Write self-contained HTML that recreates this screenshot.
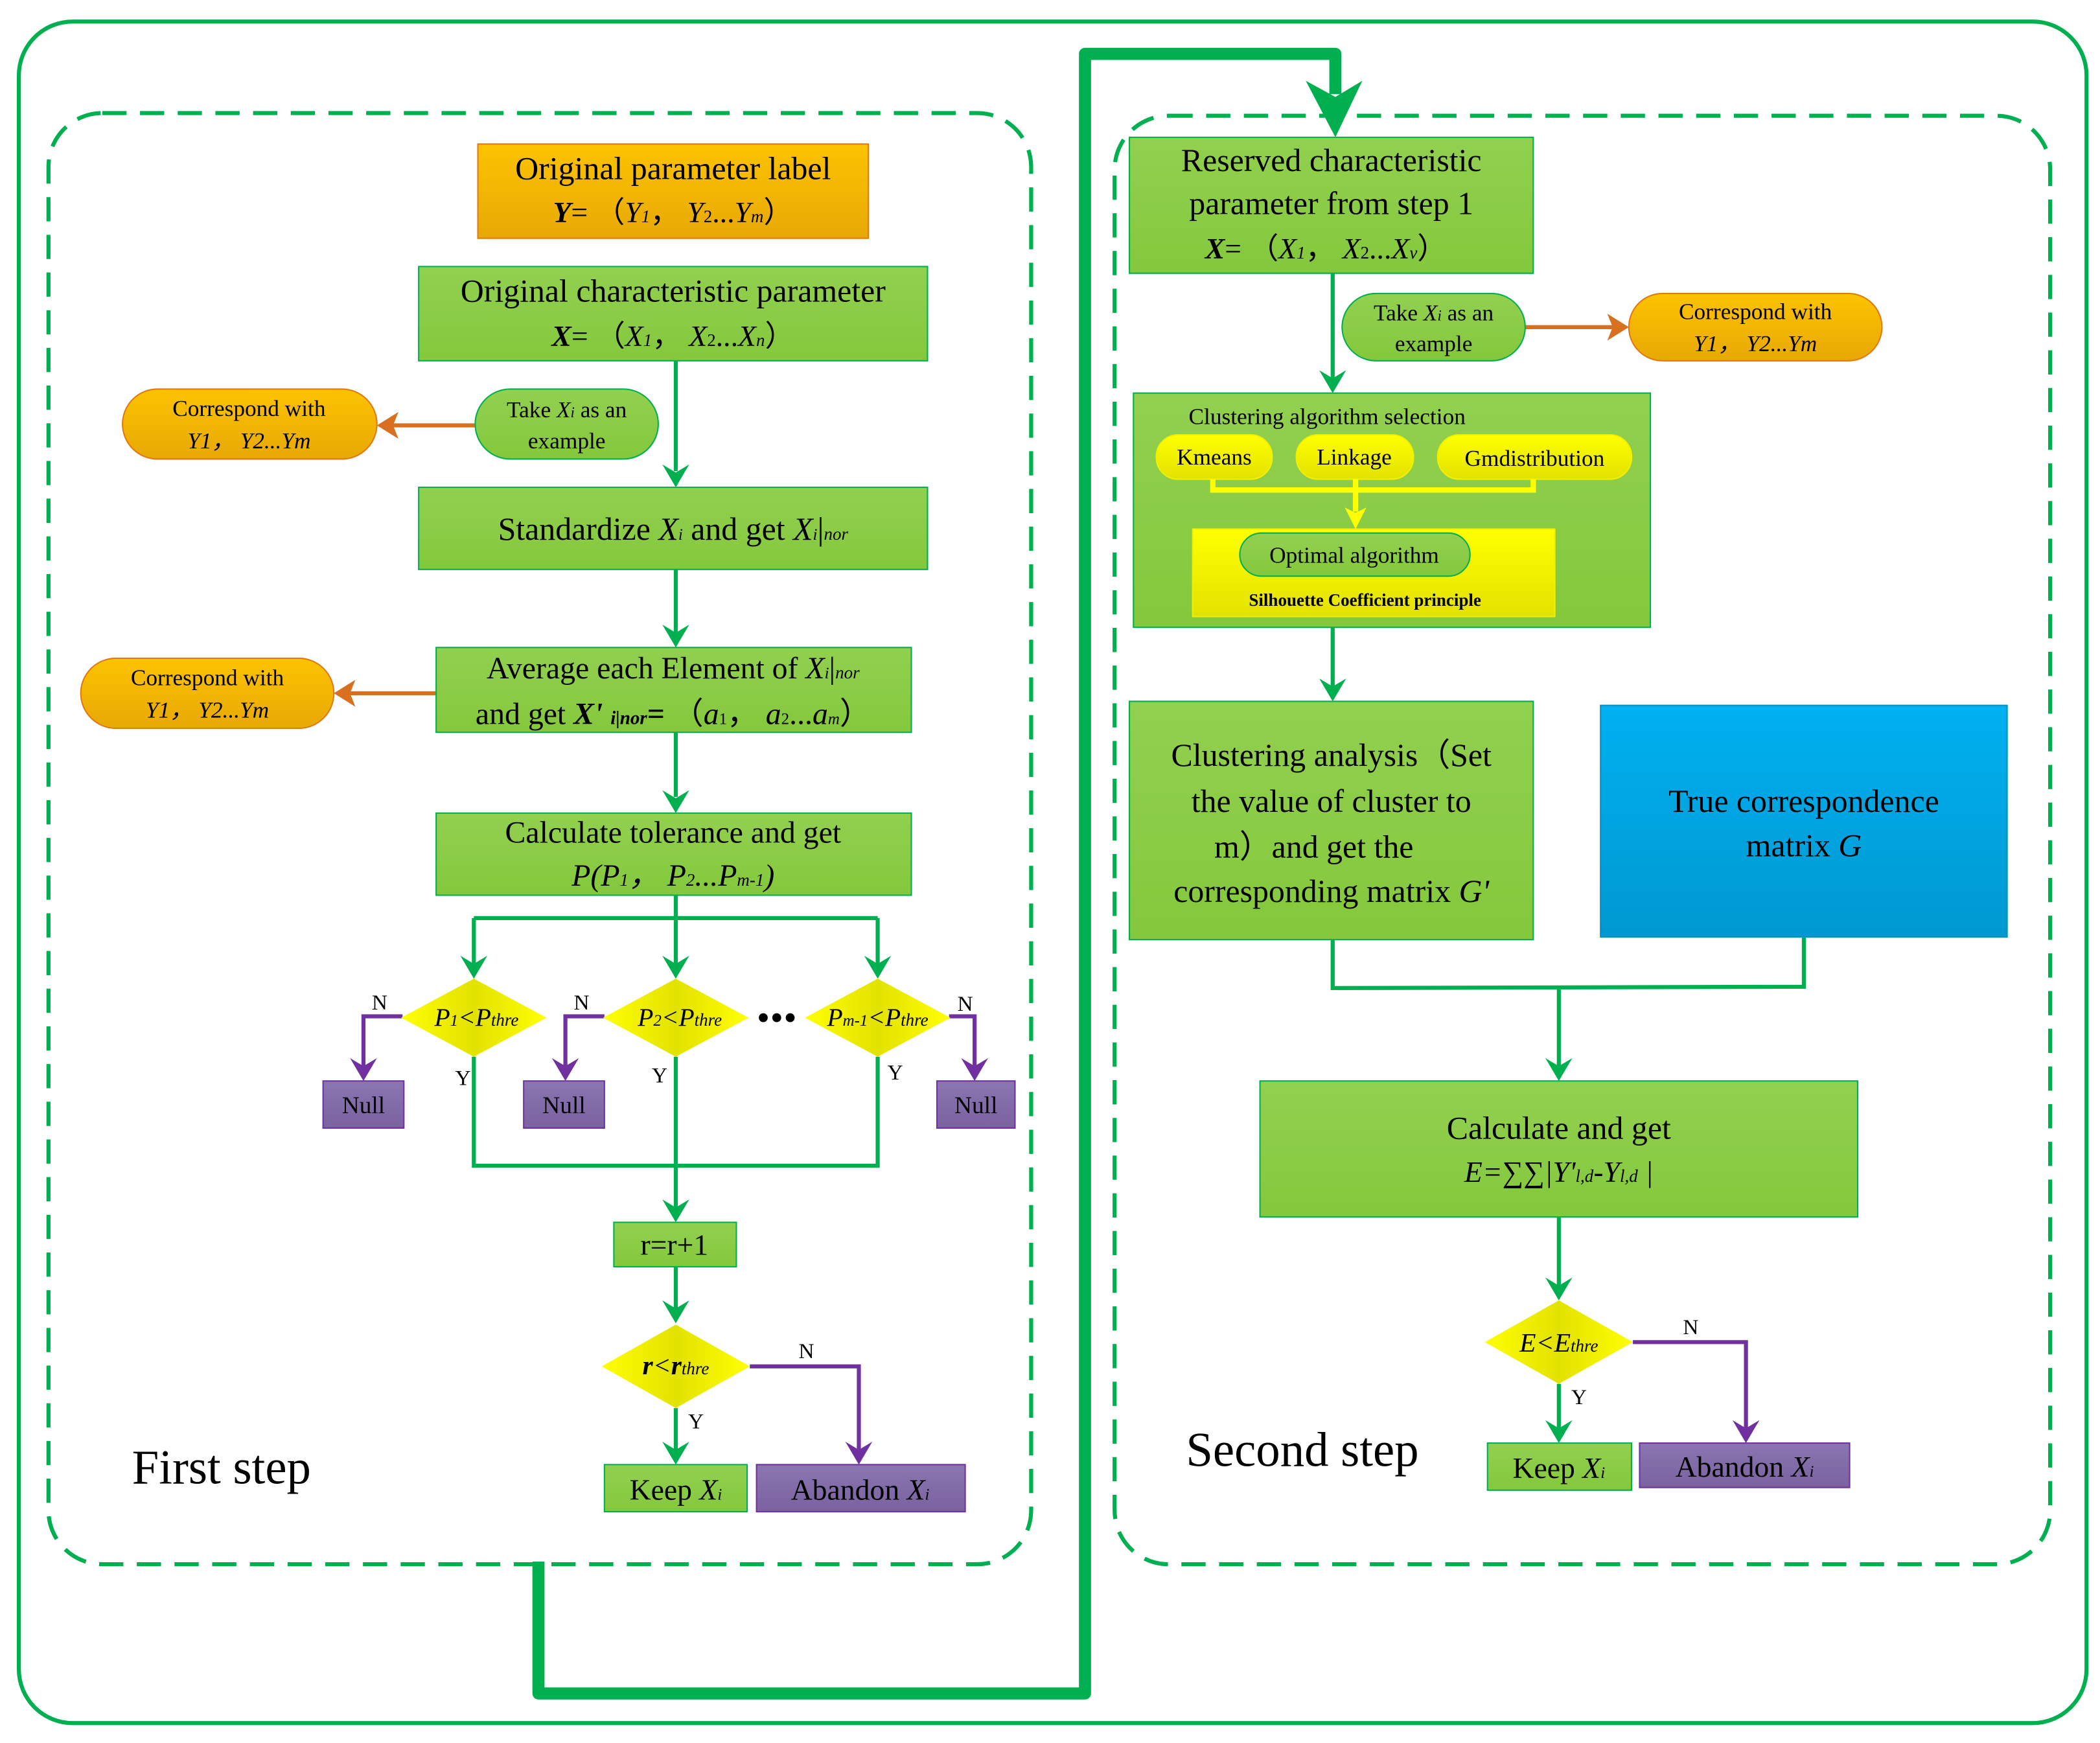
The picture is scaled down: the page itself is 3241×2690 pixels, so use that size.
<!DOCTYPE html>
<html><head><meta charset="utf-8">
<style>
html,body{margin:0;padding:0;background:#fff;}
svg{display:block;}
text{font-family:"Liberation Serif",serif;fill:#000;}
</style></head>
<body>
<svg width="3241" height="2690" viewBox="0 0 1560 1294.8" xmlns="http://www.w3.org/2000/svg">
<defs>
<linearGradient id="gG" x1="0" y1="0" x2="0" y2="1"><stop offset="0" stop-color="#92d050"/><stop offset="1" stop-color="#84c83c"/></linearGradient>
<linearGradient id="gO" x1="0" y1="0" x2="0" y2="1"><stop offset="0" stop-color="#fcc300"/><stop offset="1" stop-color="#e8a806"/></linearGradient>
<linearGradient id="gB" x1="0" y1="0" x2="0" y2="1"><stop offset="0" stop-color="#00b0f0"/><stop offset="1" stop-color="#0098d0"/></linearGradient>
<linearGradient id="gP" x1="0" y1="0" x2="0" y2="1"><stop offset="0" stop-color="#8a76b0"/><stop offset="1" stop-color="#7a62a0"/></linearGradient>
<linearGradient id="gY" x1="0" y1="0" x2="0" y2="1"><stop offset="0" stop-color="#ffff00"/><stop offset="1" stop-color="#e2e200"/></linearGradient>
<linearGradient id="gD" x1="0" y1="0" x2="1" y2="0"><stop offset="0" stop-color="#ffff00"/><stop offset="0.5" stop-color="#e2e200"/><stop offset="1" stop-color="#ffff00"/></linearGradient>
<marker id="aG" markerWidth="10" markerHeight="12" refX="5" refY="10" orient="auto-start-reverse" markerUnits="userSpaceOnUse" viewBox="0 0 10 12"><path d="M0,0 L5,3 L10,0 L5,12 Z" fill="#00b050"/></marker>
</defs>

<!-- outer frame -->
<rect x="14" y="16" width="1536" height="1264" rx="40" fill="none" stroke="#00b050" stroke-width="3"/>
<!-- dashed groups -->
<rect x="36" y="84" width="730" height="1078" rx="40" fill="none" stroke="#00b050" stroke-width="3" stroke-dasharray="18,10"/>
<rect x="828" y="86" width="695" height="1076" rx="40" fill="none" stroke="#00b050" stroke-width="3" stroke-dasharray="18,10"/>

<!-- thick connector -->
<path d="M400,1160 V1258 H806 V40 H992 V70" fill="none" stroke="#00b050" stroke-width="9" stroke-linejoin="round"/>
<path d="M970,60 L992,72 L1012,60 L992,102 Z" fill="#00b050"/>

<g stroke="#00b050" stroke-width="3" fill="none">
<!-- left flow -->
<line x1="502" y1="268" x2="502" y2="350"/>
<line x1="502" y1="423" x2="502" y2="470"/>
<line x1="502" y1="544" x2="502" y2="592"/>
<polyline points="502,665 502,682"/>
<line x1="352" y1="682" x2="652" y2="682"/>
<line x1="352" y1="682" x2="352" y2="716"/>
<line x1="502" y1="682" x2="502" y2="716"/>
<line x1="652" y1="682" x2="652" y2="716"/>
<polyline points="352,785 352,866 652,866 652,785"/>
<line x1="502" y1="785" x2="502" y2="897"/>
<line x1="502" y1="941" x2="502" y2="972"/>
<line x1="502" y1="1046" x2="502" y2="1077"/>
<!-- right flow -->
<line x1="990" y1="203" x2="990" y2="281"/>
<line x1="990" y1="466" x2="990" y2="510"/>
<polyline points="990,698 990,734 1340,733 1340,696"/>
<line x1="1158" y1="734" x2="1158" y2="792"/>
<line x1="1158" y1="904" x2="1158" y2="955"/>
<line x1="1158" y1="1028" x2="1158" y2="1061"/>
</g>
<g fill="#00b050">
<path d="M492,345 L502,351 L512,345 L502,362 Z"/>
<path d="M492,464 L502,470 L512,464 L502,481 Z"/>
<path d="M492,587 L502,593 L512,587 L502,604 Z"/>
<path d="M342,710 L352,716 L362,710 L352,727 Z"/>
<path d="M492,710 L502,716 L512,710 L502,727 Z"/>
<path d="M642,710 L652,716 L662,710 L652,727 Z"/>
<path d="M492,891 L502,897 L512,891 L502,908 Z"/>
<path d="M492,966 L502,972 L512,966 L502,983 Z"/>
<path d="M492,1071 L502,1077 L512,1071 L502,1088 Z"/>
<path d="M980,275 L990,281 L1000,275 L990,292 Z"/>
<path d="M980,504 L990,510 L1000,504 L990,521 Z"/>
<path d="M1148,786 L1158,792 L1168,786 L1158,803 Z"/>
<path d="M1148,949 L1158,955 L1168,949 L1158,966 Z"/>
<path d="M1148,1055 L1158,1061 L1168,1055 L1158,1072 Z"/>
</g>

<!-- orange arrows -->
<g stroke="#d87020" stroke-width="3" fill="#d87020">
<line x1="353" y1="316" x2="292" y2="316"/>
<path d="M280,316 L296,306 L292,316 L296,326 Z" stroke="none"/>
<line x1="324" y1="515" x2="260" y2="515"/>
<path d="M248,515 L264,505 L260,515 L264,525 Z" stroke="none"/>
<line x1="1133" y1="243" x2="1198" y2="243"/>
<path d="M1210,243 L1194,233 L1198,243 L1194,253 Z" stroke="none"/>
</g>

<!-- purple arrows -->
<g stroke="#7030a0" stroke-width="3" fill="none">
<polyline points="299,755 270,755 270,792"/>
<polyline points="449,755 420,755 420,792"/>
<polyline points="705,755 724,755 724,792"/>
<polyline points="557,1015 638,1015 638,1077"/>
<polyline points="1213,997 1297,997 1297,1061"/>
</g>
<g fill="#7030a0">
<path d="M260,786 L270,792 L280,786 L270,803 Z"/>
<path d="M410,786 L420,792 L430,786 L420,803 Z"/>
<path d="M714,786 L724,792 L734,786 L724,803 Z"/>
<path d="M628,1071 L638,1077 L648,1071 L638,1088 Z"/>
<path d="M1287,1055 L1297,1061 L1307,1055 L1297,1072 Z"/>
</g>

<!-- LEFT boxes -->
<rect x="355" y="107" width="290" height="70" fill="url(#gO)" stroke="#e07a10" stroke-width="1"/>
<text x="500" y="133" font-size="24" text-anchor="middle">Original parameter label</text>
<text x="500" y="165" font-size="22" text-anchor="middle"><tspan font-weight="bold" font-style="italic">Y</tspan>= （<tspan font-style="italic">Y</tspan><tspan font-size="13" font-style="italic">1</tspan>， <tspan font-style="italic">Y</tspan><tspan font-size="13">2</tspan>...<tspan font-style="italic">Y</tspan><tspan font-size="13" font-style="italic">m</tspan>）</text>

<rect x="311" y="198" width="378" height="70" fill="url(#gG)" stroke="#00b050" stroke-width="1"/>
<text x="500" y="224" font-size="24" text-anchor="middle">Original characteristic parameter</text>
<text x="500" y="257" font-size="22" text-anchor="middle"><tspan font-weight="bold" font-style="italic">X</tspan>= （<tspan font-style="italic">X</tspan><tspan font-size="13" font-style="italic">1</tspan>， <tspan font-style="italic">X</tspan><tspan font-size="13">2</tspan>...<tspan font-style="italic">X</tspan><tspan font-size="13" font-style="italic">n</tspan>）</text>

<rect x="353" y="289" width="136" height="52" rx="26" fill="url(#gG)" stroke="#00b050" stroke-width="1"/>
<text x="421" y="310" font-size="17" text-anchor="middle">Take <tspan font-style="italic">X</tspan><tspan font-size="11" font-style="italic">i</tspan> as an</text>
<text x="421" y="333" font-size="17" text-anchor="middle">example</text>

<rect x="91" y="289" width="189" height="52" rx="26" fill="url(#gO)" stroke="#e07a10" stroke-width="1"/>
<text x="185" y="309" font-size="17" text-anchor="middle">Correspond with</text>
<text x="185" y="333" font-size="17" text-anchor="middle" font-style="italic">Y1， Y2...Ym</text>

<rect x="311" y="362" width="378" height="61" fill="url(#gG)" stroke="#00b050" stroke-width="1"/>
<text x="500" y="401" font-size="24" text-anchor="middle">Standardize <tspan font-style="italic">X</tspan><tspan font-size="12" font-style="italic">i</tspan> and get  <tspan font-style="italic">X</tspan><tspan font-size="12" font-style="italic">i</tspan>|<tspan font-size="13" font-style="italic">nor</tspan></text>

<rect x="324" y="481" width="353" height="63" fill="url(#gG)" stroke="#00b050" stroke-width="1"/>
<text x="500" y="504" font-size="23" text-anchor="middle">Average each Element of <tspan font-style="italic">X</tspan><tspan font-size="12" font-style="italic">i</tspan>|<tspan font-size="13" font-style="italic">nor</tspan></text>
<text x="500" y="538" font-size="23" text-anchor="middle">and get <tspan font-weight="bold" font-style="italic">X'</tspan> <tspan font-size="14" font-weight="bold" font-style="italic">i|nor</tspan><tspan font-weight="bold">=</tspan>  （<tspan font-style="italic">a</tspan><tspan font-size="12">1</tspan>， <tspan font-style="italic">a</tspan><tspan font-size="12">2</tspan>...<tspan font-style="italic">a</tspan><tspan font-size="12" font-style="italic">m</tspan>）</text>

<rect x="60" y="489" width="188" height="52" rx="26" fill="url(#gO)" stroke="#e07a10" stroke-width="1"/>
<text x="154" y="509" font-size="17" text-anchor="middle">Correspond with</text>
<text x="154" y="533" font-size="17" text-anchor="middle" font-style="italic">Y1， Y2...Ym</text>

<rect x="324" y="604" width="353" height="61" fill="url(#gG)" stroke="#00b050" stroke-width="1"/>
<text x="500" y="626" font-size="23" text-anchor="middle">Calculate tolerance and get</text>
<text x="500" y="658" font-size="23" text-anchor="middle" font-style="italic">P(P<tspan font-size="13">1</tspan>， P<tspan font-size="13">2</tspan>...P<tspan font-size="13">m-1</tspan>)</text>

<!-- diamonds -->
<polygon points="352,727 406,756 352,785 298,756" fill="url(#gD)"/>
<polygon points="502,727 556,756 502,785 448,756" fill="url(#gD)"/>
<polygon points="652,727 706,756 652,785 598,756" fill="url(#gD)"/>
<text x="354" y="762" font-size="19" text-anchor="middle" font-style="italic">P<tspan font-size="12">1</tspan>&lt;P<tspan font-size="13">thre</tspan></text>
<text x="505" y="762" font-size="19" text-anchor="middle" font-style="italic">P<tspan font-size="12">2</tspan>&lt;P<tspan font-size="13">thre</tspan></text>
<text x="652" y="762" font-size="19" text-anchor="middle" font-style="italic">P<tspan font-size="12">m-1</tspan>&lt;P<tspan font-size="13">thre</tspan></text>
<circle cx="567" cy="756" r="3.3"/><circle cx="577" cy="756" r="3.3"/><circle cx="587" cy="756" r="3.3"/>
<text x="282" y="750" font-size="16" text-anchor="middle">N</text>
<text x="432" y="750" font-size="16" text-anchor="middle">N</text>
<text x="717" y="751" font-size="16" text-anchor="middle">N</text>
<text x="344" y="806" font-size="16" text-anchor="middle">Y</text>
<text x="490" y="804" font-size="16" text-anchor="middle">Y</text>
<text x="665" y="802" font-size="16" text-anchor="middle">Y</text>

<rect x="240" y="803" width="60" height="35" fill="url(#gP)" stroke="#7030a0" stroke-width="1"/>
<text x="270" y="827" font-size="18" text-anchor="middle">Null</text>
<rect x="389" y="803" width="60" height="35" fill="url(#gP)" stroke="#7030a0" stroke-width="1"/>
<text x="419" y="827" font-size="18" text-anchor="middle">Null</text>
<rect x="696" y="803" width="58" height="35" fill="url(#gP)" stroke="#7030a0" stroke-width="1"/>
<text x="725" y="827" font-size="18" text-anchor="middle">Null</text>

<rect x="456" y="908" width="91" height="33" fill="url(#gG)" stroke="#00b050" stroke-width="1"/>
<text x="501" y="932" font-size="22" text-anchor="middle">r=r+1</text>

<polygon points="502,984 557,1015 502,1046 447,1015" fill="url(#gD)"/>
<text x="502" y="1021" font-size="20" text-anchor="middle" font-style="italic" font-weight="bold">r<tspan font-weight="normal">&lt;</tspan>r<tspan font-size="13" font-weight="normal">thre</tspan></text>
<text x="599" y="1009" font-size="16" text-anchor="middle">N</text>
<text x="517" y="1061" font-size="16" text-anchor="middle">Y</text>

<rect x="449" y="1088" width="106" height="35" fill="url(#gG)" stroke="#00b050" stroke-width="1"/>
<text x="502" y="1114" font-size="22" text-anchor="middle">Keep <tspan font-style="italic">X</tspan><tspan font-size="12" font-style="italic">i</tspan></text>
<rect x="562" y="1088" width="155" height="35" fill="url(#gP)" stroke="#7030a0" stroke-width="1"/>
<text x="639" y="1114" font-size="22" text-anchor="middle">Abandon  <tspan font-style="italic">X</tspan><tspan font-size="12" font-style="italic">i</tspan></text>

<text x="98" y="1102" font-size="36">First step</text>

<!-- RIGHT -->
<rect x="839" y="102" width="300" height="101" fill="url(#gG)" stroke="#00b050" stroke-width="1"/>
<text x="989" y="127" font-size="24" text-anchor="middle">Reserved characteristic</text>
<text x="989" y="159" font-size="24" text-anchor="middle">parameter from step 1</text>
<text x="985" y="192" font-size="22" text-anchor="middle"><tspan font-weight="bold" font-style="italic">X</tspan>= （<tspan font-style="italic">X</tspan><tspan font-size="13" font-style="italic">1</tspan>， <tspan font-style="italic">X</tspan><tspan font-size="13">2</tspan>...<tspan font-style="italic">X</tspan><tspan font-size="13" font-style="italic">v</tspan>）</text>

<rect x="997" y="218" width="136" height="50" rx="25" fill="url(#gG)" stroke="#00b050" stroke-width="1"/>
<text x="1065" y="238" font-size="17" text-anchor="middle">Take <tspan font-style="italic">X</tspan><tspan font-size="11" font-style="italic">i</tspan> as an</text>
<text x="1065" y="261" font-size="17" text-anchor="middle">example</text>

<rect x="1210" y="218" width="188" height="50" rx="25" fill="url(#gO)" stroke="#e07a10" stroke-width="1"/>
<text x="1304" y="237" font-size="17" text-anchor="middle">Correspond with</text>
<text x="1304" y="261" font-size="17" text-anchor="middle" font-style="italic">Y1， Y2...Ym</text>

<rect x="842" y="292" width="384" height="174" fill="url(#gG)" stroke="#00b050" stroke-width="1"/>
<text x="883" y="315" font-size="17">Clustering algorithm selection</text>
<rect x="859" y="323" width="86" height="33" rx="16" fill="url(#gY)" stroke="#f0f000" stroke-width="1"/>
<text x="902" y="345" font-size="17" text-anchor="middle">Kmeans</text>
<rect x="963" y="323" width="87" height="33" rx="16" fill="url(#gY)" stroke="#f0f000" stroke-width="1"/>
<text x="1006" y="345" font-size="17" text-anchor="middle">Linkage</text>
<rect x="1068" y="323" width="144" height="33" rx="16" fill="url(#gY)" stroke="#f0f000" stroke-width="1"/>
<text x="1140" y="346" font-size="17" text-anchor="middle">Gmdistribution</text>
<polyline points="901,356 901,364 1139,364 1139,356" fill="none" stroke="#ffff00" stroke-width="4"/>
<line x1="1007" y1="356" x2="1007" y2="380" stroke="#ffff00" stroke-width="4"/>
<path d="M999,377 L1007,381 L1015,377 L1007,393 Z" fill="#ffff00"/>
<rect x="886" y="393" width="269" height="65" fill="url(#gY)" stroke="#f0f000" stroke-width="1"/>
<rect x="921" y="396" width="171" height="32" rx="16" fill="url(#gG)" stroke="#00b050" stroke-width="1"/>
<text x="1006" y="418" font-size="17" text-anchor="middle">Optimal algorithm</text>
<text x="1014" y="450" font-size="13" text-anchor="middle" font-weight="bold">Silhouette Coefficient principle</text>

<rect x="839" y="521" width="300" height="177" fill="url(#gG)" stroke="#00b050" stroke-width="1"/>
<text x="989" y="569" font-size="24" text-anchor="middle">Clustering analysis（Set</text>
<text x="989" y="603" font-size="24" text-anchor="middle">the value of cluster to</text>
<text x="976" y="637" font-size="24" text-anchor="middle">m）and get the</text>
<text x="989" y="670" font-size="24" text-anchor="middle">corresponding matrix <tspan font-style="italic">G'</tspan></text>

<rect x="1189" y="524" width="302" height="172" fill="url(#gB)" stroke="#0090c8" stroke-width="1"/>
<text x="1340" y="603" font-size="24" text-anchor="middle">True correspondence</text>
<text x="1340" y="636" font-size="24" text-anchor="middle">matrix <tspan font-style="italic">G</tspan></text>

<rect x="936" y="803" width="444" height="101" fill="url(#gG)" stroke="#00b050" stroke-width="1"/>
<text x="1158" y="846" font-size="24" text-anchor="middle">Calculate and get</text>
<text x="1158" y="878" font-size="22" text-anchor="middle" font-style="italic">E=∑∑|Y'<tspan font-size="13">l,d</tspan>-Y<tspan font-size="13">l,d</tspan> |</text>

<polygon points="1158,966 1213,997 1158,1028 1103,997" fill="url(#gD)"/>
<text x="1158" y="1004" font-size="20" text-anchor="middle" font-style="italic">E&lt;E<tspan font-size="13">thre</tspan></text>
<text x="1256" y="991" font-size="16" text-anchor="middle">N</text>
<text x="1173" y="1043" font-size="16" text-anchor="middle">Y</text>

<rect x="1105" y="1072" width="107" height="35" fill="url(#gG)" stroke="#00b050" stroke-width="1"/>
<text x="1158" y="1098" font-size="22" text-anchor="middle">Keep <tspan font-style="italic">X</tspan><tspan font-size="12" font-style="italic">i</tspan></text>
<rect x="1218" y="1072" width="156" height="33" fill="url(#gP)" stroke="#7030a0" stroke-width="1"/>
<text x="1296" y="1097" font-size="22" text-anchor="middle">Abandon  <tspan font-style="italic">X</tspan><tspan font-size="12" font-style="italic">i</tspan></text>

<text x="881" y="1089" font-size="36">Second step</text>
</svg>
</body></html>
